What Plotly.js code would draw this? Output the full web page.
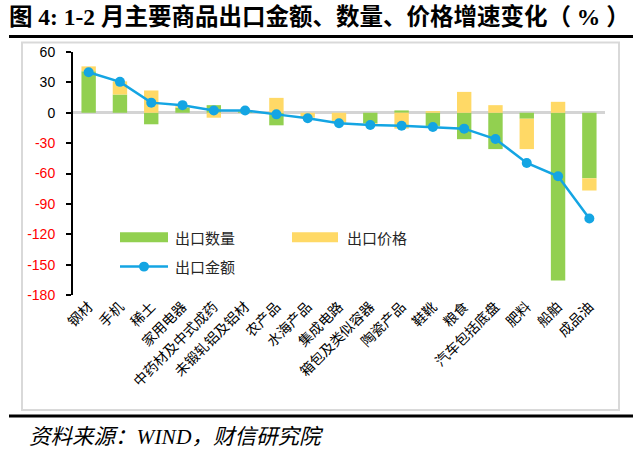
<!DOCTYPE html>
<html><head><meta charset="utf-8">
<script src="https://cdn.plot.ly/plotly-3.0.1.min.js"></script>
<style>html,body{margin:0;padding:0;background:#fff}#c{width:640px;height:454px}</style>
</head><body><div id="c"></div>
<script>
const categories = ["钢材","手机","稀土","家用电器","中药材及中式成药","未锻轧铝及铝材","农产品","水海产品","集成电路","箱包及类似容器","陶瓷产品","鞋靴","粮食","汽车包括底盘","肥料","船舶","成品油"];
const quantity = [41, 18, -11.4, 4.9, 7.5, 1.5, -12.4, 0, 0, -10.4, 2.3, -13, -26.1, -35.9, -5.9, -165.7, -64.7];
const price = [4.8, 13, 22, 1.5, -4.9, 0.8, 14.7, -4.9, -9.8, -1.5, -15.7, 1.6, 20.6, 7.5, -30, 10.8, -12.1];
const amount = [40, 30.5, 10, 7.5, 2.3, 2.3, -1.6, -5.5, -10.4, -12.1, -12.9, -14, -15.7, -26, -49.6, -62.7, -104.5];
const yTicks = [60, 30, 0, -30, -60, -90, -120, -150, -180];
const seriesNames = ["出口数量", "出口价格", "出口金额"];
const colors = {quantity:'#92D050', price:'#FFD966', amount:'#14A5E3'};

const L = 73, R = 605, T = 51.5, B = 295.5;
const W = R - L, H = B - T;
const px = x => (x - L) / W;
const py = y => (B - y) / H;

const traces = [
  {type:'bar', name:seriesNames[0], x:categories, y:quantity, marker:{color:colors.quantity}},
  {type:'bar', name:seriesNames[1], x:categories, y:price, marker:{color:colors.price}},
  {type:'scatter', mode:'lines+markers', name:seriesNames[2], x:categories, y:amount,
   line:{color:colors.amount, width:2.5}, marker:{color:colors.amount, size:10}}
];

const cjk = '"Noto Sans CJK SC", "Liberation Sans", sans-serif';
const legFont = {family:cjk, size:15, color:'#262626'};
const layout = {
  width:640, height:454, showlegend:false,
  margin:{l:L, r:640-R, t:T, b:454-B, pad:0},
  paper_bgcolor:'#fff', plot_bgcolor:'rgba(0,0,0,0)',
  barmode:'relative', bargap:0.54,
  font:{family:cjk, size:13, color:'#000'},
  title:{text:'<b>图 4: 1-2 月主要商品出口金额、数量、价格增速变化（ % ）</b>',
    xref:'container', yref:'container', x:0.014, xanchor:'left', y:1-17/454, yanchor:'middle',
    font:{family:'"Liberation Serif", "Noto Sans CJK SC", serif', size:23.5, color:'#000'}},
  xaxis:{type:'category', showline:false, ticks:'', showgrid:false, zeroline:false,
    tickangle:-45, tickfont:{family:cjk, size:14, color:'#000'}, range:[-0.5, 16.5]},
  yaxis:{range:[-180, 60], tickvals:yTicks,
    ticktext:yTicks.map(v => v < 0 ? '<span style="color:#FF0000">'+v+'</span>' : String(v)),
    showline:true, linecolor:'#000', linewidth:2, ticks:'outside', ticklen:5, tickwidth:2, tickcolor:'#000',
    showgrid:false, zeroline:true, zerolinecolor:'#D4D4D4', zerolinewidth:3,
    tickfont:{family:'"Liberation Sans", Arial, sans-serif', size:14, color:'#000'}, ticklabelstandoff:8},
  shapes:[
    {type:'line', xref:'paper', yref:'paper', x0:px(9), x1:px(633), y0:py(36), y1:py(36), line:{color:'#000', width:3}},
    {type:'rect', xref:'paper', yref:'paper', x0:px(22), x1:px(619), y0:py(42), y1:py(411), line:{color:'#D9D9D9', width:2}, layer:'below'},
    {type:'line', xref:'paper', yref:'paper', x0:px(9), x1:px(633), y0:py(417), y1:py(417), line:{color:'#000', width:3}},
    // legend swatches
    {type:'rect', xref:'paper', yref:'paper', x0:px(120), x1:px(168), y0:py(232.5), y1:py(242.5), line:{width:0}, fillcolor:colors.quantity},
    {type:'rect', xref:'paper', yref:'paper', x0:px(292), x1:px(338), y0:py(232.5), y1:py(242.5), line:{width:0}, fillcolor:colors.price},
    {type:'line', xref:'paper', yref:'paper', x0:px(120), x1:px(168), y0:py(267), y1:py(267), line:{color:colors.amount, width:2.5}},
    {type:'circle', xref:'paper', yref:'paper', x0:px(139), x1:px(149), y0:py(262), y1:py(272), line:{width:0}, fillcolor:colors.amount}
  ],
  annotations:[
    {text:seriesNames[0], xref:'paper', yref:'paper', x:px(173), y:py(238), xanchor:'left', yanchor:'middle', showarrow:false, font:legFont},
    {text:seriesNames[1], xref:'paper', yref:'paper', x:px(345), y:py(238), xanchor:'left', yanchor:'middle', showarrow:false, font:legFont},
    {text:seriesNames[2], xref:'paper', yref:'paper', x:px(173), y:py(267), xanchor:'left', yanchor:'middle', showarrow:false, font:legFont},
    {text:'资料来源：WIND，财信研究院', xref:'paper', yref:'paper', x:px(27), y:py(438), xanchor:'left', yanchor:'middle', showarrow:false,
     font:{family:'"Liberation Serif", "Noto Sans CJK SC", serif', size:21.5, style:'italic', color:'#000'}}
  ]
};
Plotly.newPlot('c', traces, layout, {displayModeBar:false, staticPlot:true});
</script></body></html>
